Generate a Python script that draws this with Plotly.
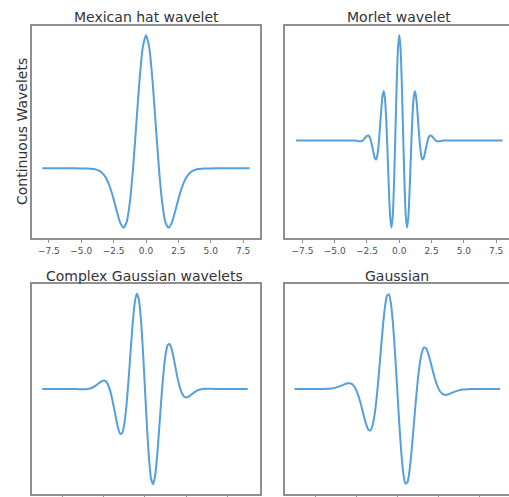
import plotly.graph_objects as go
from plotly.subplots import make_subplots

# ---------------- data ----------------
titles = ["Mexican hat wavelet", "Morlet wavelet", "Complex Gaussian wavelets", "Gaussian"]
y_label = "Continuous Wavelets"

top_tick_vals = [-7.5, -5.0, -2.5, 0.0, 2.5, 5.0, 7.5]
top_tick_text = ["\u22127.5", "\u22125.0", "\u22122.5", "0.0", "2.5", "5.0", "7.5"]
bottom_tick_vals = [-4, -2, 0, 2, 4]
bottom_tick_text = ["\u22124", "\u22122", "0", "2", "4"]

mexh_x = [-8, -6, -5, -4.5, -4, -3.5, -3.25, -3, -2.75, -2.5, -2.25, -2, -1.75, -1.5, -1.25, -1,
          -0.75, -0.5, -0.25, 0, 0.25, 0.5, 0.75, 1, 1.25, 1.5, 1.75, 2, 2.25, 2.5, 2.75, 3,
          3.25, 3.5, 4, 4.5, 5, 6, 8]
mexh_y = [0, 0, -0.0001, -0.0007, -0.0044, -0.0214, -0.0422, -0.0771, -0.1297, -0.2001, -0.2803,
          -0.3521, -0.3869, -0.352, -0.2233, 0, 0.2864, 0.574, 0.788, 0.867, 0.788, 0.574, 0.2864,
          0, -0.2233, -0.352, -0.3869, -0.3521, -0.2803, -0.2001, -0.1297, -0.0771, -0.0422,
          -0.0214, -0.0044, -0.0007, -0.0001, 0, 0]

morl_x = [-8.0, -3.6, -3.5, -3.4, -3.3, -3.2, -3.1, -3.0, -2.9, -2.8, -2.7, -2.6, -2.5, -2.4,
          -2.3, -2.2, -2.1, -2.0, -1.9, -1.8, -1.7, -1.6, -1.5, -1.4, -1.3, -1.2, -1.1, -1.0,
          -0.9, -0.8, -0.7, -0.6, -0.5, -0.4, -0.3, -0.2, -0.1, 0.0, 0.1, 0.2, 0.3, 0.4, 0.5,
          0.6, 0.7, 0.8, 0.9, 1.0, 1.1, 1.2, 1.3, 1.4, 1.5, 1.6, 1.7, 1.8, 1.9, 2.0, 2.1, 2.2,
          2.3, 2.4, 2.5, 2.6, 2.7, 2.8, 2.9, 3.0, 3.1, 3.2, 3.3, 3.4, 3.5, 3.6, 8.0]
morl_y = [0, 0, 0.0005, -0.0009, -0.0030, -0.0057, -0.0080, -0.0084, -0.0053, 0.0027, 0.0153,
          0.0309, 0.0438, 0.0474, 0.0343, 0.0004, -0.0524, -0.1136, -0.1640, -0.1803, -0.1419,
          -0.0405, 0.1125, 0.2829, 0.4195, 0.4674, 0.3870, 0.1721, -0.1406, -0.4746, -0.7330,
          -0.8269, -0.7070, -0.3842, 0.0676, 0.5296, 0.8732, 1.0, 0.8732, 0.5296, 0.0676,
          -0.3842, -0.7070, -0.8269, -0.7330, -0.4746, -0.1406, 0.1721, 0.3870, 0.4674, 0.4195,
          0.2829, 0.1125, -0.0405, -0.1419, -0.1803, -0.1640, -0.1136, -0.0524, 0.0004, 0.0343,
          0.0474, 0.0438, 0.0309, 0.0153, 0.0027, -0.0053, -0.0084, -0.0080, -0.0057, -0.0030,
          -0.0009, 0.0005, 0, 0]

cgau_x = [-5, -4, -3.5, -3.2, -3.0, -2.8, -2.6, -2.4, -2.2, -2.1, -2.0, -1.9, -1.8, -1.7, -1.6,
          -1.5, -1.4, -1.3, -1.2, -1.1, -1.0, -0.9, -0.8, -0.7, -0.6, -0.5, -0.4, -0.3, -0.2,
          -0.1, 0.0, 0.1, 0.2, 0.3, 0.4, 0.5, 0.6, 0.7, 0.8, 0.9, 1.0, 1.1, 1.2, 1.3, 1.4, 1.5,
          1.6, 1.7, 1.8, 1.9, 2.0, 2.1, 2.2, 2.4, 2.6, 2.8, 3.0, 3.2, 3.5, 4, 5]
cgau_y = [0, 0, -0.0006, -0.0018, -0.0023, 0.0003, 0.0109, 0.0350, 0.0690, 0.0831, 0.0883,
          0.0779, 0.0451, -0.0146, -0.1012, -0.2082, -0.3209, -0.4174, -0.4715, -0.4576,
          -0.3579, -0.1690, 0.0934, 0.3938, 0.6814, 0.8992, 0.9972, 0.9440, 0.7366, 0.4035, 0,
          -0.4035, -0.7366, -0.9440, -0.9972, -0.8992, -0.6814, -0.3938, -0.0934, 0.1690,
          0.3579, 0.4576, 0.4715, 0.4174, 0.3209, 0.2082, 0.1012, 0.0146, -0.0451, -0.0779,
          -0.0883, -0.0831, -0.0690, -0.0350, -0.0109, -0.0003, 0.0023, 0.0018, 0.0006, 0, 0]

gaus_x = [-5, -4, -3.6, -3.4, -3.2, -3.0, -2.8, -2.6, -2.5, -2.4, -2.3, -2.2, -2.1, -2.0, -1.9,
          -1.8, -1.7, -1.6, -1.5, -1.4, -1.3, -1.2, -1.1, -1.0, -0.9, -0.8, -0.7, -0.6, -0.5,
          -0.4, -0.3, -0.2, -0.1, 0.0, 0.1, 0.2, 0.3, 0.4, 0.5, 0.6, 0.7, 0.8, 0.9, 1.0, 1.1,
          1.2, 1.3, 1.4, 1.5, 1.6, 1.7, 1.8, 1.9, 2.0, 2.1, 2.2, 2.3, 2.4, 2.5, 2.6, 2.8, 3.0,
          3.2, 3.4, 3.6, 4, 5]
gaus_y = [0, 0.0002, 0.0009, 0.0025, 0.0064, 0.0144, 0.0281, 0.0461, 0.0546, 0.0601, 0.0599,
          0.0506, 0.0287, -0.0090, -0.0637, -0.1346, -0.2170, -0.3020, -0.3769, -0.4259,
          -0.4326, -0.3827, -0.2682, -0.0899, 0.1394, 0.3959, 0.6459, 0.8515, 0.9758, 0.9918,
          0.8870, 0.6675, 0.3583, 0, -0.3583, -0.6675, -0.8870, -0.9918, -0.9758, -0.8515,
          -0.6459, -0.3959, -0.1394, 0.0899, 0.2682, 0.3827, 0.4326, 0.4259, 0.3769, 0.3020,
          0.2170, 0.1346, 0.0637, 0.0090, -0.0287, -0.0506, -0.0599, -0.0601, -0.0546, -0.0461,
          -0.0281, -0.0144, -0.0064, -0.0025, -0.0009, -0.0002, 0]

# ---------------- styling ----------------
W, H = 509, 497
LINE = "#559fda"
FRAME = "#8f8f8f"
FONT = "DejaVu Sans"


def fx(p):
    return p / W


def fy(p):
    return (H - p) / H


fig = make_subplots(rows=2, cols=2)
series = [(mexh_x, mexh_y, 1, 1), (morl_x, morl_y, 1, 2), (cgau_x, cgau_y, 2, 1), (gaus_x, gaus_y, 2, 2)]
for xs, ys, r, c in series:
    fig.add_trace(go.Scatter(x=xs, y=ys, mode="lines", hoverinfo="skip",
                             line=dict(color=LINE, width=2, shape="spline", smoothing=0.6)),
                  row=r, col=c)

common_x = dict(showgrid=False, zeroline=False, showline=True, linecolor=FRAME, linewidth=1.5,
                ticks="outside", ticklen=3.5, tickwidth=1, tickcolor=FRAME,
                tickfont=dict(family=FONT, size=9, color="#505050"))
common_y = dict(showgrid=False, zeroline=False, showline=True, linecolor=FRAME, linewidth=1.5,
                showticklabels=False, ticks="")

top_dom = [fy(237.5), fy(25.5)]
bot_dom = [fy(494), fy(284)]
left_dom = [fx(32), fx(260)]
right_dom = [fx(285), 1.0]

fig.update_layout(
    width=W, height=H, margin=dict(l=0, r=0, t=0, b=0),
    paper_bgcolor="white", plot_bgcolor="white", showlegend=False,
    font=dict(family=FONT, color="#333333"),
    xaxis=dict(common_x, domain=left_dom, range=[-8.8, 8.8], mirror=True,
               tickvals=top_tick_vals, ticktext=top_tick_text),
    yaxis=dict(common_y, domain=top_dom, range=[-0.45, 0.93], mirror=True),
    xaxis2=dict(common_x, domain=right_dom, range=[-8.85, 8.5], mirror=True,
                tickvals=top_tick_vals, ticktext=top_tick_text),
    yaxis2=dict(common_y, domain=top_dom, range=[-0.92, 1.09], mirror=False),
    xaxis3=dict(common_x, domain=left_dom, range=[-5.5, 5.6], mirror=True,
                tickvals=bottom_tick_vals, ticktext=bottom_tick_text, showticklabels=False),
    yaxis3=dict(common_y, domain=bot_dom, range=[-1.1, 1.1], mirror=True),
    xaxis4=dict(common_x, domain=right_dom, range=[-5.46, 5.44], mirror=True,
                tickvals=bottom_tick_vals, ticktext=bottom_tick_text, showticklabels=False),
    yaxis4=dict(common_y, domain=bot_dom, range=[-1.1, 1.1], mirror=False),
)

title_refs = [("x", fy(25.5)), ("x2", fy(25.5)), ("x3", fy(284)), ("x4", fy(284))]
for t, (xr, ypos) in zip(titles, title_refs):
    fig.add_annotation(text=t, xref=xr, x=0, yref="paper", y=ypos, xanchor="center",
                       yanchor="bottom", showarrow=False, yshift=-2,
                       font=dict(family=FONT, size=14, color="#333333"))

fig.add_annotation(text=y_label, xref="paper", x=fx(22.5), yref="paper", y=(top_dom[0] + top_dom[1]) / 2,
                   xanchor="center", yanchor="middle", textangle=-90, showarrow=False,
                   font=dict(family=FONT, size=14, color="#333333"))

fig.write_html("out.html")
